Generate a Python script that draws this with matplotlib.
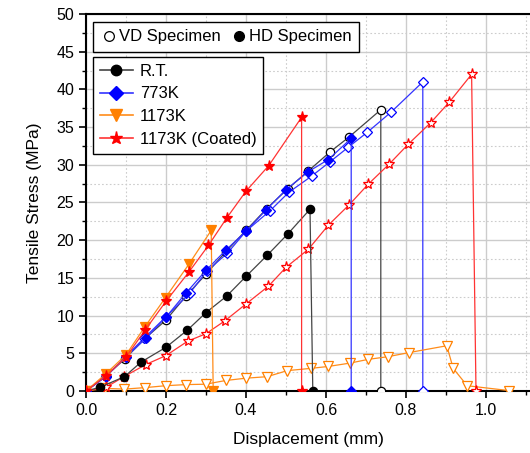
import numpy as np
import matplotlib
matplotlib.use("Agg")
import matplotlib.pyplot as plt
from matplotlib.lines import Line2D
from matplotlib.ticker import MultipleLocator, FormatStrFormatter

plt.rcParams['font.family'] = ['Liberation Sans', 'DejaVu Sans']

# R.T.
rt_hd_x = [0, 0.035, 0.096, 0.138, 0.20, 0.253, 0.30, 0.352, 0.40, 0.453, 0.504, 0.56, 0.567]
rt_hd_y = [0, 0.5, 1.9, 3.85, 5.8, 8.05, 10.4, 12.6, 15.2, 18.0, 20.8, 24.1, 0]
rt_vd_x = [0, 0.05, 0.098, 0.148, 0.20, 0.25, 0.30, 0.35, 0.40, 0.452, 0.504, 0.556, 0.61, 0.658, 0.737, 0.737]
rt_vd_y = [0, 2.0, 4.3, 7.0, 9.4, 12.6, 15.5, 18.5, 21.3, 24.2, 26.8, 29.2, 31.7, 33.7, 37.3, 0]

# 773K
k773_hd_x = [0, 0.05, 0.1, 0.15, 0.2, 0.25, 0.3, 0.35, 0.4, 0.45, 0.5, 0.556, 0.606, 0.663, 0.663]
k773_hd_y = [0, 2.0, 4.5, 7.0, 9.8, 13.0, 16.0, 18.7, 21.2, 24.0, 26.7, 29.1, 30.7, 33.5, 0]
k773_vd_x = [0, 0.05, 0.099, 0.145, 0.20, 0.259, 0.303, 0.353, 0.40, 0.46, 0.507, 0.564, 0.61, 0.655, 0.703, 0.763, 0.842, 0.842]
k773_vd_y = [0, 1.9, 4.55, 7.0, 9.85, 12.95, 15.95, 18.25, 21.2, 23.9, 26.35, 28.5, 30.4, 32.3, 34.3, 37.0, 41.0, 0]

# 1173K
k1173_hd_x = [0, 0.05, 0.1, 0.147, 0.199, 0.257, 0.313, 0.318]
k1173_hd_y = [0, 2.3, 4.8, 8.5, 12.4, 16.8, 21.3, 0]
k1173_vd_x = [0, 0.048, 0.096, 0.148, 0.199, 0.25, 0.299, 0.35, 0.40, 0.453, 0.503, 0.562, 0.605,
              0.66, 0.706, 0.755, 0.808, 0.902, 0.918, 0.953, 1.058]
k1173_vd_y = [0, 0.35, 0.25, 0.45, 0.7, 0.85, 0.9, 1.4, 1.7, 1.9, 2.7, 3.0, 3.25,
              3.7, 4.2, 4.55, 5.1, 6.0, 3.0, 0.7, 0.05]

# 1173K (Coated)
coat_hd_x = [0, 0.05, 0.1, 0.148, 0.20, 0.2575, 0.306, 0.3525, 0.40, 0.457, 0.539, 0.539]
coat_hd_y = [0, 2.0, 4.5, 8.1, 11.9, 15.8, 19.3, 23.0, 26.5, 29.9, 36.3, 0]
coat_vd_x = [0, 0.05, 0.095, 0.149, 0.20, 0.254, 0.30, 0.347, 0.399, 0.456, 0.50, 0.556, 0.606,
             0.658, 0.706, 0.758, 0.806, 0.862, 0.908, 0.964, 0.975]
coat_vd_y = [0, 0.5, 1.9, 3.5, 4.7, 6.6, 7.6, 9.3, 11.5, 13.9, 16.4, 18.8, 22.0,
             24.7, 27.45, 30.1, 32.75, 35.6, 38.3, 42.0, 0]

labels = ['R.T.', '773K', '1173K', '1173K (Coated)']
colors = ['black', '#0000ff', '#ff8000', '#ff0000']
line_colors = ['#444444', '#3333ff', '#ff8c1a', '#ff3333']
markers = ['o', 'D', 'v', '*']
sizes = [6, 5.5, 7, 8]

fig = plt.figure(figsize=(5.30, 4.53), dpi=100)
ax = fig.add_axes([86 / 530, 62 / 453, 444 / 530, 377 / 453])

series = [(rt_vd_x, rt_vd_y, rt_hd_x, rt_hd_y),
          (k773_vd_x, k773_vd_y, k773_hd_x, k773_hd_y),
          (k1173_vd_x, k1173_vd_y, k1173_hd_x, k1173_hd_y),
          (coat_vd_x, coat_vd_y, coat_hd_x, coat_hd_y)]

for i, (vx, vy, hx, hy) in enumerate(series):
    # VD specimen: open markers
    ax.plot(vx, vy, color=line_colors[i], lw=0.9, marker=markers[i], ms=sizes[i],
            mfc='white', mec=colors[i], mew=0.9, zorder=3)
    # HD specimen: filled markers
    ax.plot(hx, hy, color=line_colors[i], lw=0.9, marker=markers[i], ms=sizes[i],
            mfc=colors[i], mec=colors[i], mew=0.9, zorder=4)

ax.set_xlim(0, 444 / 400)
ax.set_ylim(0, 50)
ax.xaxis.set_major_locator(MultipleLocator(0.2))
ax.xaxis.set_minor_locator(MultipleLocator(0.1))
ax.yaxis.set_major_locator(MultipleLocator(5))
ax.yaxis.set_minor_locator(MultipleLocator(2.5))
ax.xaxis.set_major_formatter(FormatStrFormatter('%.1f'))

ax.grid(which='major', color='#cccccc', lw=1.0, ls='-', zorder=0)
ax.grid(which='minor', color='#cccccc', lw=0.8, ls=(0, (1.5, 2)), zorder=0)
ax.set_axisbelow(True)

ax.spines['right'].set_visible(False)
for s in ['left', 'bottom', 'top']:
    ax.spines[s].set_linewidth(1.5)
ax.tick_params(which='major', direction='out', length=5, width=1.2, labelsize=11.5, colors='black')
ax.tick_params(which='minor', direction='out', length=3, width=1.0)
ax.tick_params(top=False, right=False)

ax.set_xlabel('Displacement (mm)', fontsize=12.5, labelpad=10)
ax.set_ylabel('Tensile Stress (MPa)', fontsize=12.5, labelpad=10)

# specimen legend
spec_handles = [Line2D([], [], ls='none', marker='o', ms=7, mfc='white', mec='black', mew=0.9),
                Line2D([], [], ls='none', marker='o', ms=7, mfc='black', mec='black')]
leg1 = ax.legend(spec_handles, ['VD Specimen', 'HD Specimen'], ncol=2, fontsize=12,
                 loc='upper left', bbox_to_anchor=(7 / 444, 369 / 377), borderaxespad=0,
                 handletextpad=0.1, columnspacing=0.6, handlelength=1.0, borderpad=0.45,
                 fancybox=False, edgecolor='black', framealpha=1)
leg1.get_frame().set_linewidth(1.0)
ax.add_artist(leg1)

temp_handles = [Line2D([], [], color=line_colors[i], lw=1.2, marker=markers[i], ms=sizes[i] + 1.5,
                       mfc=colors[i], mec=colors[i]) for i in range(4)]
leg2 = ax.legend(temp_handles, labels, fontsize=12, loc='upper left', borderaxespad=0,
                 bbox_to_anchor=(7 / 444, 334 / 377), handlelength=2.0, handletextpad=0.4,
                 labelspacing=0.47, borderpad=0.4, fancybox=False, edgecolor='black', framealpha=1)
leg2.get_frame().set_linewidth(1.0)

fig.savefig('out.png', dpi=100)
